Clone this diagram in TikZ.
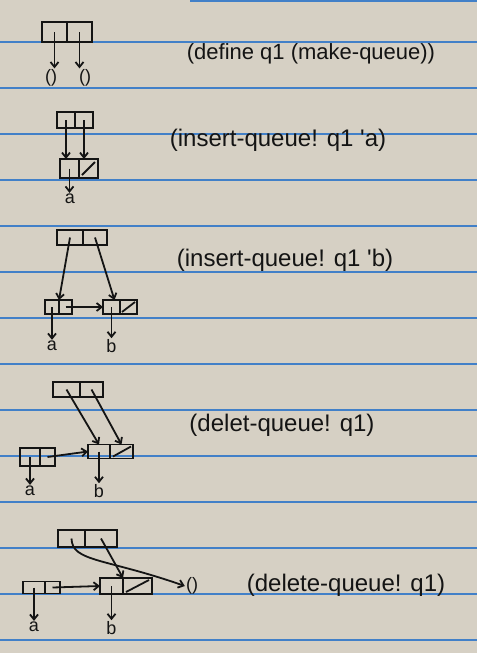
\documentclass[tikz,border=0pt]{standalone}
\usepackage{fontspec}
\newfontfamily\hand{Liberation Sans}
\usetikzlibrary{arrows.meta}
\definecolor{paper}{RGB}{214,208,196}
\definecolor{ruleblue}{RGB}{66,128,200}
\definecolor{ink}{RGB}{20,20,20}
\begin{document}
\begin{tikzpicture}[x=1pt,y=-1pt,
  cell/.style={draw=ink,line width=1.9pt,inner sep=0pt,outer sep=0pt},
  ptr/.style={draw=ink,line width=1.8pt,-{Straight Barb[length=5pt,width=8pt]}},
  lbl/.style={text=ink,inner sep=1pt,font=\hand\fontsize{18}{19}\selectfont},
  cmd/.style={text=ink,inner sep=0pt,font=\hand\fontsize{24}{26}\selectfont},
  nilslash/.style={draw=ink,line width=1.8pt},
  paperrule/.style={draw=ruleblue,line width=1.8pt}]
\useasboundingbox (0,0) rectangle (477,653);
\fill[paper] (0,0) rectangle (477,653);
\foreach \yy in {42,88,134,180,226,272,318,364,410,456,502,548,594,640}
  \draw[paperrule] (0,\yy) -- (477,\yy);
\draw[paperrule] (190,0.8) -- (477,0.8);

% ---- 1: (define q1 (make-queue))
\node[cell,minimum width=25,minimum height=20] (f1) at (54.5,32) {};
\node[cell,minimum width=25,minimum height=20] (r1) at (79.5,32) {};
\node[lbl] (n1a) at (51,78) {()};
\node[lbl] (n1b) at (85,78) {()};
\draw[ptr] (f1.center) -- (f1.center |- n1a.north);
\draw[ptr] (r1.center) -- (r1.center |- n1b.north);
\node[cmd,font=\hand\fontsize{22}{24}\selectfont] (t1) at (311,54) {(define q1 (make-queue))};

% ---- 2: (insert-queue! q1 'a)
\node[cell,minimum width=18,minimum height=16] (f2) at (66,120) {};
\node[cell,minimum width=18,minimum height=16] (r2) at (84,120) {};
\node[cell,minimum width=19,minimum height=19] (a2) at (69.5,168.5) {};
\node[cell,minimum width=19,minimum height=19] (a2d) at (88.5,168.5) {};
\draw[nilslash] ([shift={(3,-3)}]a2d.south west) -- ([shift={(-3,3)}]a2d.north east);
\node[lbl] (la2) at (70,199) {a};
\draw[ptr] (f2.center) -- (f2.center |- a2.north);
\draw[ptr] (r2.center) -- (r2.center |- a2d.north);
\draw[ptr] (a2.center) -- (a2.center |- la2.north);
\node[cmd] (t2) at (278,140) {(insert-queue! q1 'a)};

% ---- 3: (insert-queue! q1 'b)
\node[cell,minimum width=26,minimum height=15] (f3) at (70,237.5) {};
\node[cell,minimum width=24,minimum height=15] (r3) at (95,237.5) {};
\node[cell,minimum width=14,minimum height=14] (a3) at (52,307) {};
\node[cell,minimum width=13,minimum height=14] (a3d) at (65.5,307) {};
\node[cell,minimum width=17,minimum height=14] (b3) at (111.5,307) {};
\node[cell,minimum width=17,minimum height=14] (b3d) at (128.5,307) {};
\draw[nilslash] ([shift={(2,-2)}]b3d.south west) -- ([shift={(-2,2)}]b3d.north east);
\node[lbl] (la3) at (52,346) {a};
\node[lbl] (lb3) at (111.5,346) {b};
\draw[ptr] (f3.center) -- (a3.north east);
\draw[ptr] (r3.center) -- ([xshift=3pt]b3.north);
\draw[ptr] (a3d.center) -- (b3.west);
\draw[ptr] (a3.center) -- (a3.center |- la3.north);
\draw[ptr] (b3.center) -- (b3.center |- lb3.north);
\node[cmd] (t3) at (285,260) {(insert-queue! q1 'b)};

% ---- 4: (delet-queue! q1)
\node[cell,minimum width=27,minimum height=15] (f4) at (66.5,389.5) {};
\node[cell,minimum width=23,minimum height=15] (r4) at (91.5,389.5) {};
\node[cell,minimum width=20,minimum height=18] (a4) at (30,457) {};
\node[cell,minimum width=15,minimum height=18] (a4d) at (47.5,457) {};
\node[cell,minimum width=22,minimum height=14] (b4) at (99,451.5) {};
\node[cell,minimum width=23,minimum height=14] (b4d) at (121.5,451.5) {};
\draw[nilslash] ([shift={(3,-2)}]b4d.south west) -- ([shift={(-2,2)}]b4d.north east);
\node[lbl] (la4) at (30,491) {a};
\node[lbl] (lb4) at (99,491) {b};
\draw[ptr] (f4.center) -- (b4.north);
\draw[ptr] (r4.center) -- (b4d.north);
\draw[ptr] (a4d.center) -- (b4.west);
\draw[ptr] (a4.center) -- (a4.center |- la4.north);
\draw[ptr] (b4.center) -- (b4.center |- lb4.north);
\node[cmd] (t4) at (282,425) {(delet-queue! q1)};

% ---- 5: (delete-queue! q1)
\node[cell,minimum width=27,minimum height=17] (f5) at (71.5,538.5) {};
\node[cell,minimum width=32,minimum height=17] (r5) at (101,538.5) {};
\node[cell,minimum width=22,minimum height=12] (a5) at (34,587.5) {};
\node[cell,minimum width=15,minimum height=12] (a5d) at (52.5,587.5) {};
\node[cell,minimum width=23,minimum height=16] (b5) at (111.5,586) {};
\node[cell,minimum width=29,minimum height=16] (b5d) at (137.5,586) {};
\draw[nilslash] ([shift={(3,-2)}]b5d.south west) -- ([shift={(-3,2)}]b5d.north east);
\node[lbl] (n5) at (192,586) {()};
\node[lbl] (la5) at (34,627) {a};
\node[lbl] (lb5) at (111.5,628) {b};
\draw[ptr] (f5.center) .. controls (72,562) and (105,558) .. (n5.west);
\draw[ptr] (r5.center) -- (b5.north east);
\draw[ptr] (a5d.center) -- (b5.west);
\draw[ptr] (a5.center) -- (a5.center |- la5.north);
\draw[ptr] (b5.center) -- (b5.center |- lb5.north);
\node[cmd] (t5) at (346,585) {(delete-queue! q1)};
\end{tikzpicture}
\end{document}
